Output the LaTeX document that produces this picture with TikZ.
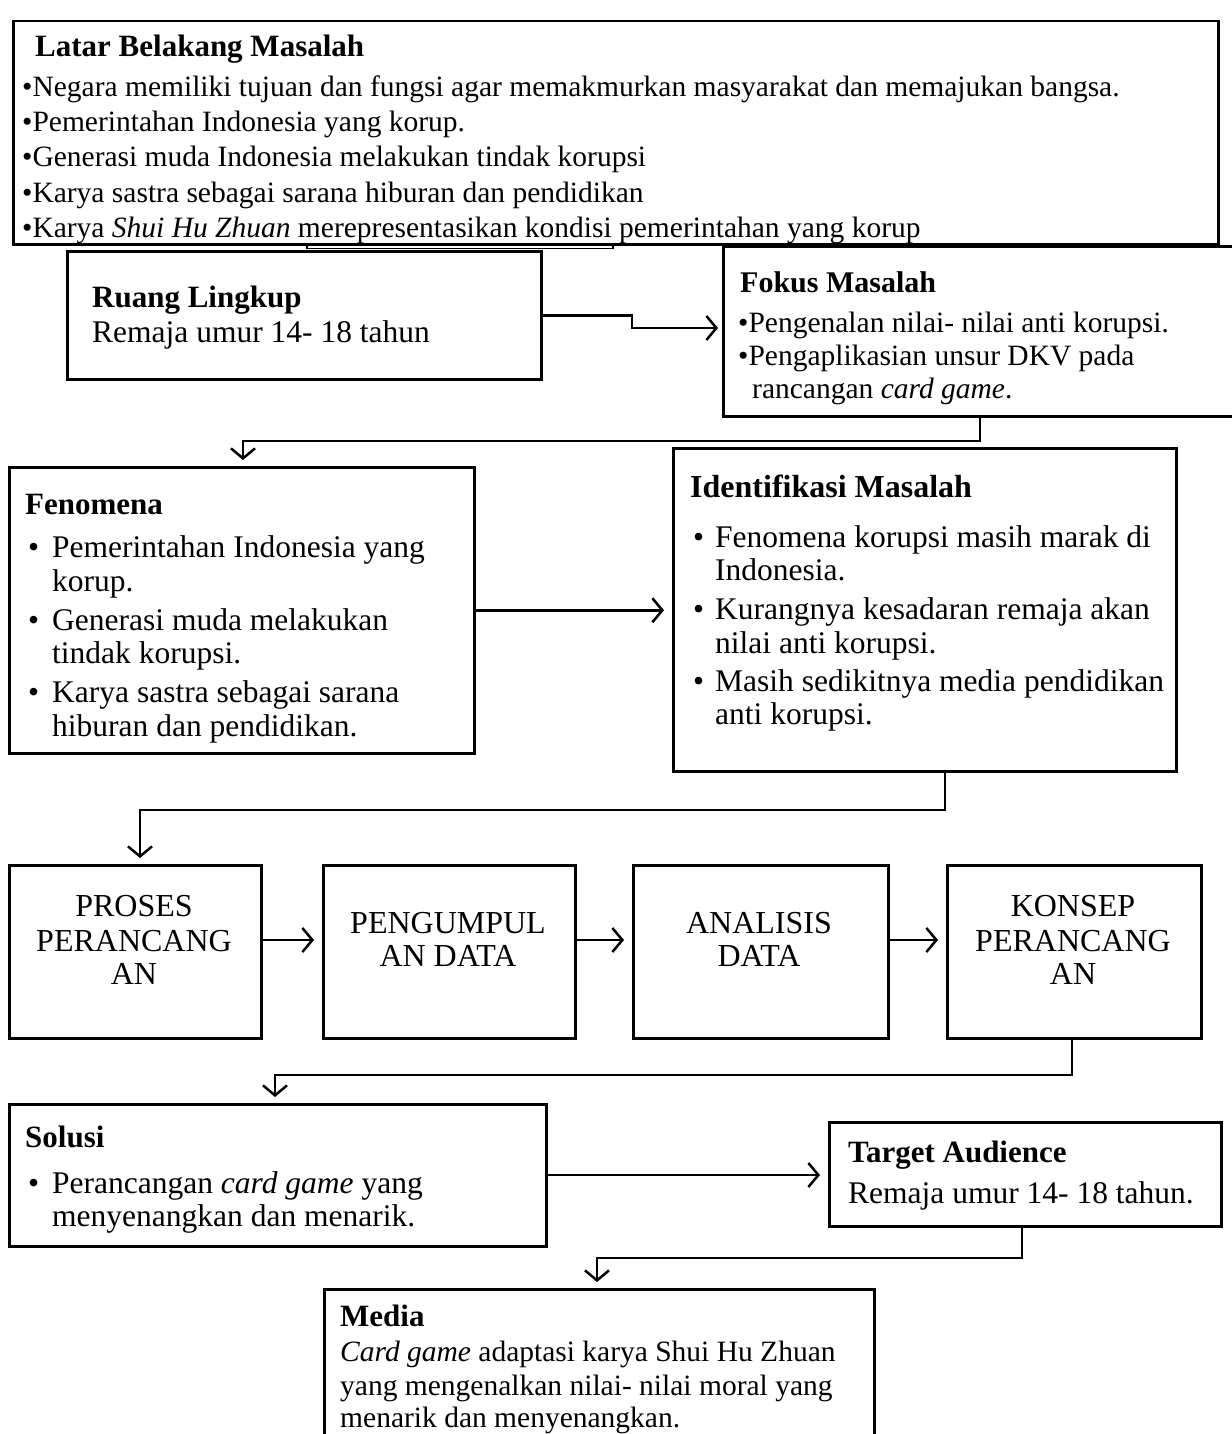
\documentclass[tikz,border=0pt]{standalone}
\usepackage{fontspec}
\setmainfont{Liberation Serif}
\usetikzlibrary{arrows.meta,calc}
\begin{document}
\begin{tikzpicture}[x=1pt,y=-1pt,
  box/.style={draw, line width=2.5pt, inner sep=0pt, anchor=north west},
  txt/.style={anchor=base west, inner sep=0pt, font=\fontsize{29.5}{34}\selectfont},
  btxt/.style={anchor=base west, inner sep=0pt, font=\fontsize{31}{36}\selectfont\bfseries},
  ltxt/.style={anchor=base west, inner sep=0pt, font=\fontsize{31.5}{36}\selectfont},
  ctxt/.style={anchor=base, inner sep=0pt, font=\fontsize{32}{36}\selectfont},
  arr/.style={line width=2.5pt, -{Straight Barb[length=10pt,width=24pt]}}]
\useasboundingbox (0,0) rectangle (1231,1434);

% boxes
\node[box, minimum width=1205pt, minimum height=223pt] (latar) at (12,20) {};
\node[box, minimum width=474pt, minimum height=128pt] (ruang) at (66,250) {};
\node[box, minimum width=514pt, minimum height=170pt] (fokus) at (722,245) {};
\node[box, minimum width=465pt, minimum height=286pt] (fenom) at (8,466) {};
\node[box, minimum width=503pt, minimum height=323pt] (ident) at (672,447) {};
\node[box, minimum width=252pt, minimum height=173pt] (proses) at (8,864) {};
\node[box, minimum width=252pt, minimum height=173pt] (kumpul) at (322,864) {};
\node[box, minimum width=255pt, minimum height=173pt] (analisis) at (632,864) {};
\node[box, minimum width=254pt, minimum height=173pt] (konsep) at (946,864) {};
\node[box, minimum width=537pt, minimum height=142pt] (solusi) at (8,1103) {};
\node[box, minimum width=392pt, minimum height=104pt] (target) at (828,1121) {};
\node[box, minimum width=550pt, minimum height=160pt] (media) at (323,1288) {};

% double line under top box
\draw[line width=1.2pt] (307,245) rectangle (613,248.5);

% Latar Belakang text
\node[btxt] (l0) at (35,57) {Latar Belakang Masalah};
\node[txt] (l1) at (22,97) {•Negara memiliki tujuan dan fungsi agar memakmurkan masyarakat dan memajukan bangsa.};
\node[txt] (l2) at (22,132) {•Pemerintahan Indonesia yang korup.};
\node[txt] (l3) at (22,167) {•Generasi muda Indonesia melakukan tindak korupsi};
\node[txt] (l4) at (22,202) {•Karya sastra sebagai sarana hiburan dan pendidikan};
\node[txt] (l5) at (22,237) {•Karya \textit{Shui Hu Zhuan} merepresentasikan kondisi pemerintahan yang korup};

% Ruang Lingkup
\node[btxt] (r0) at (92,307) {Ruang Lingkup};
\node[ltxt] (r1) at (92,342) {Remaja umur 14- 18 tahun};

% Fokus Masalah
\node[btxt, font=\fontsize{30}{34}\selectfont\bfseries] (f0) at (740,292) {Fokus Masalah};
\node[txt] (f1) at (738,332) {•Pengenalan nilai- nilai anti korupsi.};
\node[txt] (f2) at (738,365) {•Pengaplikasian unsur DKV pada};
\node[txt] (f3) at (752,398) {rancangan \textit{card game}.};

% Fenomena
\node[btxt] (n0) at (25,514) {Fenomena};
\node[ltxt] (n1) at (28,557) {•};
\node[ltxt] (n2) at (52,557) {Pemerintahan Indonesia yang};
\node[ltxt] (n3) at (52,591) {korup.};
\node[ltxt] (n4) at (28,630) {•};
\node[ltxt] (n5) at (52,630) {Generasi muda melakukan};
\node[ltxt] (n6) at (52,663) {tindak korupsi.};
\node[ltxt] (n7) at (28,702) {•};
\node[ltxt] (n8) at (52,702) {Karya sastra sebagai sarana};
\node[ltxt] (n9) at (52,736) {hiburan dan pendidikan.};

% Identifikasi Masalah
\node[btxt, font=\fontsize{32}{36}\selectfont\bfseries] (i0) at (690,497) {Identifikasi Masalah};
\node[ltxt] (i1) at (693,547) {•};
\node[ltxt] (i2) at (715,547) {Fenomena korupsi masih marak di};
\node[ltxt] (i3) at (715,580) {Indonesia.};
\node[ltxt] (i4) at (693,619) {•};
\node[ltxt] (i5) at (715,619) {Kurangnya kesadaran remaja akan};
\node[ltxt] (i6) at (715,653) {nilai anti korupsi.};
\node[ltxt] (i7) at (693,691) {•};
\node[ltxt] (i8) at (715,691) {Masih sedikitnya media pendidikan};
\node[ltxt] (i9) at (715,724) {anti korupsi.};

% Row boxes text
\node[ctxt] (p1) at (134,916) {PROSES};
\node[ctxt] (p2) at (134,951) {PERANCANG};
\node[ctxt] (p3) at (134,984) {AN};
\node[ctxt] (k1) at (448,933) {PENGUMPUL};
\node[ctxt] (k2) at (448,966) {AN DATA};
\node[ctxt] (a1) at (759,933) {ANALISIS};
\node[ctxt] (a2) at (759,966) {DATA};
\node[ctxt] (c1) at (1073,916) {KONSEP};
\node[ctxt] (c2) at (1073,951) {PERANCANG};
\node[ctxt] (c3) at (1073,984) {AN};

% Solusi
\node[btxt] (s0) at (25,1147) {Solusi};
\node[ltxt] (s1) at (28,1193) {•};
\node[ltxt] (s2) at (52,1193) {Perancangan \textit{card game} yang};
\node[ltxt] (s3) at (52,1226) {menyenangkan dan menarik.};

% Target Audience
\node[btxt] (g0) at (848,1162) {Target Audience};
\node[ltxt] (g1) at (848,1203) {Remaja umur 14- 18 tahun.};

% Media
\node[btxt] (m0) at (340,1326) {Media};
\node[txt] (m1) at (340,1361) {\textit{Card game} adaptasi karya Shui Hu Zhuan};
\node[txt] (m2) at (340,1395) {yang mengenalkan nilai- nilai moral yang};
\node[txt] (m3) at (340,1427) {menarik dan menyenangkan.};

% connectors
\coordinate (rf1) at (632,314);
\coordinate (rf2) at (632,328);
\draw[arr, shorten >=4pt] (ruang.east) -- (ruang.east -| rf1) -- (rf2) -- (rf2 -| fokus.west);

\coordinate (ff1) at (980,441);
\coordinate (ff2) at (243,441);
\draw[arr, shorten >=6pt] (fokus.south -| ff1) -- (ff1) -- (ff2) -- (ff2 |- fenom.north);

\draw[arr, shorten >=8pt] (fenom.east) -- (fenom.east -| ident.west);

\coordinate (ip1) at (945,810);
\coordinate (ip2) at (140,810);
\draw[arr, shorten >=6pt] (ident.south -| ip1) -- (ip1) -- (ip2) -- (ip2 |- proses.north);

\coordinate (rowy) at (0,940);
\draw[arr, shorten >=8pt] (proses.east |- rowy) -- (kumpul.west |- rowy);
\draw[arr, shorten >=8pt] (kumpul.east |- rowy) -- (analisis.west |- rowy);
\draw[arr, shorten >=8pt] (analisis.east |- rowy) -- (konsep.west |- rowy);

\coordinate (ks1) at (1072,1075);
\coordinate (ks2) at (275,1075);
\draw[arr, shorten >=6pt] (konsep.south -| ks1) -- (ks1) -- (ks2) -- (ks2 |- solusi.north);

\coordinate (st) at (0,1175);
\draw[arr, shorten >=8pt] (solusi.east |- st) -- (target.west |- st);

\coordinate (tm1) at (1022,1258);
\coordinate (tm2) at (597,1258);
\draw[arr, shorten >=6pt] (target.south -| tm1) -- (tm1) -- (tm2) -- (tm2 |- media.north);
\end{tikzpicture}
\end{document}
